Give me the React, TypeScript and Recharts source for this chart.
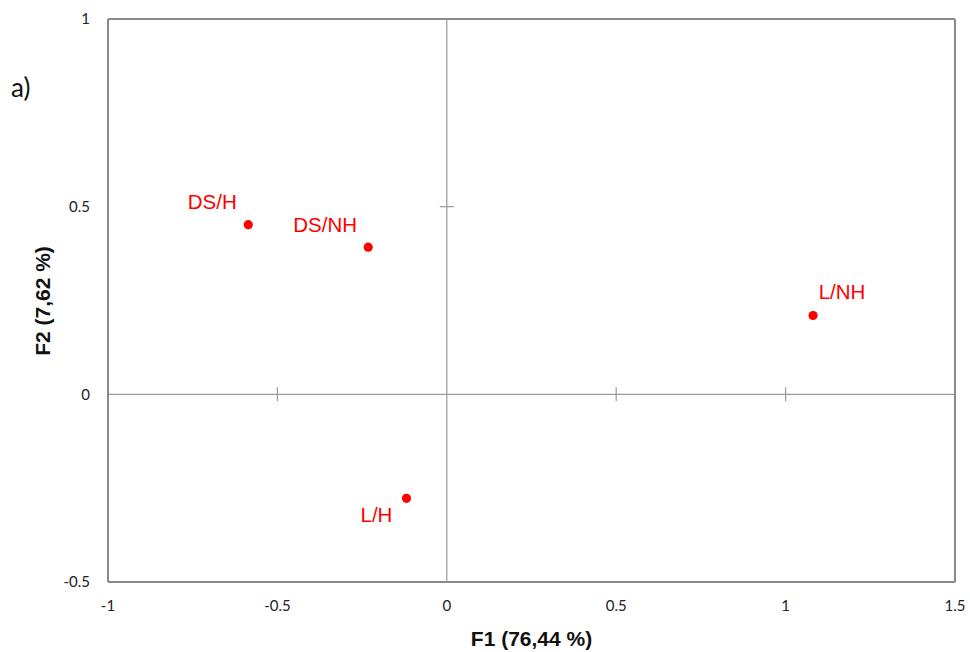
import React from 'react';
import {
  ScatterChart,
  Scatter,
  XAxis,
  YAxis,
  ReferenceLine,
} from 'recharts';

// PCA scores (F1 x F2)
const names = ['DS/H', 'DS/NH', 'L/NH', 'L/H'];
const f1Values = [-0.586, -0.232, 1.081, -0.119];
const f2Values = [0.452, 0.392, 0.21, -0.277];

const xTicks = [-1, -0.5, 0, 0.5, 1, 1.5];
const yTicks = [-0.5, 0, 0.5, 1];
const innerXTicks = [-0.5, 0.5, 1];
const innerYTicks = [0.5];

const points = names.map((name, i) => ({ name, x: f1Values[i], y: f2Values[i] }));

// label placement around each marker (px)
const labelOffset: Record<string, [number, number]> = {
  'DS/H': [-36, -23],
  'DS/NH': [-43, -23],
  'L/NH': [29, -24],
  'L/H': [-30, 16],
};

const RED = '#ff0000';
const FRAME = '#8a8a8a';
const AXIS = '#9a9a9a';
const tickFont = { fontFamily: 'Lato', fontSize: 15, fill: '#222' };

const PointShape = (props: any) => {
  const { cx, cy, payload } = props;
  const [dx, dy] = labelOffset[payload.name] || [0, -20];
  return (
    <g>
      <circle cx={cx} cy={cy} r={4.6} fill={RED} />
      <text
        x={cx + dx}
        y={cy + dy}
        textAnchor="middle"
        dominantBaseline="central"
        fontFamily="'Liberation Sans', Arial, sans-serif"
        fontSize={20.5}
        fill={RED}
      >
        {payload.name}
      </text>
    </g>
  );
};

export default function App() {
  const tx = 0.0206; // half tick length in x units (~7px)
  const ty = 0.0186; // half tick length in y units (~7px)
  return (
    <div style={{ position: 'absolute', left: 0, top: 0, width: 970, height: 652, background: '#fff' }}>
      <ScatterChart width={970} height={652} margin={{ top: 19, right: 15, bottom: 30, left: 48 }}>
        <XAxis
          type="number"
          dataKey="x"
          domain={[-1, 1.5]}
          ticks={xTicks}
          height={40}
          tickLine={false}
          tickSize={0}
          tickMargin={18}
          axisLine={{ stroke: FRAME, strokeWidth: 2 }}
          tick={tickFont}
          allowDataOverflow
        />
        <YAxis
          type="number"
          dataKey="y"
          domain={[-0.5, 1]}
          ticks={yTicks}
          width={60}
          tickLine={false}
          tickSize={0}
          tickMargin={18}
          axisLine={{ stroke: FRAME, strokeWidth: 2 }}
          tick={tickFont}
          allowDataOverflow
        />
        <ReferenceLine y={1} stroke={FRAME} strokeWidth={2} />
        <ReferenceLine x={1.5} stroke={FRAME} strokeWidth={2} />
        <ReferenceLine x={0} stroke={AXIS} strokeWidth={1.2} />
        <ReferenceLine y={0} stroke={AXIS} strokeWidth={1.2} />
        {innerXTicks.map((v) => (
          <ReferenceLine
            key={'xt' + v}
            segment={[{ x: v, y: -ty }, { x: v, y: ty }]}
            stroke={AXIS}
            strokeWidth={1.2}
          />
        ))}
        {innerYTicks.map((v) => (
          <ReferenceLine
            key={'yt' + v}
            segment={[{ x: -tx, y: v }, { x: tx, y: v }]}
            stroke={AXIS}
            strokeWidth={1.2}
          />
        ))}
        <Scatter data={points} shape={PointShape} isAnimationActive={false} />
      </ScatterChart>

      <div
        style={{
          position: 'absolute',
          left: 11,
          top: 74,
          fontFamily: 'Lato',
          fontSize: 26,
          lineHeight: '26px',
          color: '#111',
        }}
      >
        a)
      </div>
      <div
        style={{
          position: 'absolute',
          left: 531.5,
          top: 628,
          transform: 'translateX(-50%)',
          fontFamily: "'Liberation Sans', Arial, sans-serif",
          fontWeight: 'bold',
          fontSize: 21,
          lineHeight: '21px',
          whiteSpace: 'nowrap',
          color: '#111',
        }}
      >
        F1 (76,44 %)
      </div>
      <div
        style={{
          position: 'absolute',
          left: 42,
          top: 300.5,
          transform: 'translate(-50%, -50%) rotate(-90deg)',
          fontFamily: "'Liberation Sans', Arial, sans-serif",
          fontWeight: 'bold',
          fontSize: 21,
          lineHeight: '21px',
          whiteSpace: 'nowrap',
          color: '#111',
        }}
      >
        F2 (7,62 %)
      </div>
    </div>
  );
}
